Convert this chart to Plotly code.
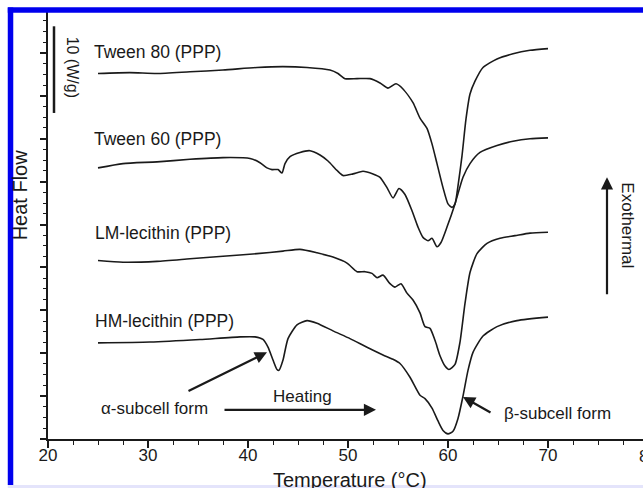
import plotly.graph_objects as go

# ---------------- data (Temperature °C, heat flow W/g with offsets) ----------------
tween80_T = [25.0, 28.2, 30.9, 34.2, 37.5, 40.9, 43.5, 45.9, 48.2, 49.0, 49.7, 50.9, 52.2, 53.2, 54.0,
             54.8, 55.5, 56.5, 57.2, 57.9, 58.4, 58.9, 59.5, 60.0, 60.4, 60.7, 61.0, 61.4, 61.8, 62.2,
             62.7, 63.5, 64.9, 66.5, 68.2, 70.0]
tween80_Y = [42.6, 42.7, 42.6, 42.8, 43.0, 43.3, 43.4, 43.3, 43.0, 42.6, 42.0, 42.0, 42.0, 41.5, 40.9,
             41.4, 40.8, 39.2, 37.4, 36.2, 34.4, 32.1, 29.3, 27.4, 27.0, 27.4, 29.5, 33.0, 37.3, 40.2,
             41.7, 43.3, 44.3, 44.9, 45.3, 45.5]

tween60_T = [25.0, 27.5, 30.9, 34.2, 37.5, 40.2, 41.2, 41.9, 42.4, 43.0, 43.4, 43.7, 44.2, 45.2, 46.2,
             47.2, 48.0, 48.9, 49.5, 50.5, 51.5, 52.5, 53.2, 53.9, 54.5, 55.1, 55.7, 56.4, 57.0, 57.5,
             58.0, 58.4, 58.9, 59.3, 59.9, 60.7, 61.5, 62.2, 63.2, 64.9, 66.5, 68.2, 70.0]
tween60_Y = [31.6, 32.1, 32.3, 32.6, 32.8, 32.7, 32.2, 31.6, 31.4, 31.4, 31.0, 32.1, 32.9, 33.4, 33.6,
             33.1, 32.4, 31.3, 30.7, 30.9, 31.2, 30.9, 30.5, 29.3, 28.1, 29.2, 28.5, 26.6, 24.7, 23.5,
             23.1, 23.4, 22.4, 22.9, 24.7, 27.4, 30.5, 32.1, 33.4, 34.2, 34.7, 35.0, 35.1]

lm_T = [25.0, 27.5, 30.9, 34.2, 37.5, 40.9, 43.5, 45.2, 46.9, 48.5, 49.9, 50.9, 51.7, 52.4, 52.9,
        53.5, 54.2, 54.7, 55.3, 55.9, 56.5, 57.2, 57.7, 58.2, 58.7, 59.2, 59.7, 60.1, 60.7, 61.2,
        61.7, 62.2, 62.9, 63.9, 65.2, 66.7, 68.2, 70.0]
lm_Y = [20.8, 20.6, 20.7, 21.0, 21.3, 21.6, 21.9, 22.1, 21.7, 21.2, 20.5, 19.5, 19.5, 19.3, 18.8,
        19.1, 18.1, 17.7, 18.1, 17.0, 16.2, 14.7, 13.1, 12.9, 11.5, 9.7, 8.5, 8.1, 8.7, 11.3,
        15.8, 19.4, 21.6, 22.8, 23.4, 23.7, 24.0, 24.1]

hm_T = [25.0, 30.2, 35.2, 39.2, 40.7, 41.5, 42.0, 42.5, 42.9, 43.1, 43.5, 44.0, 44.9, 45.9, 46.9,
        48.5, 50.2, 51.9, 53.5, 54.5, 55.2, 56.2, 57.2, 57.7, 58.4, 59.0, 59.5, 60.0, 60.5, 61.0,
        61.5, 62.0, 62.5, 63.5, 64.9, 66.9, 70.0]
hm_Y = [11.2, 11.3, 11.6, 11.9, 11.9, 11.6, 10.7, 9.2, 8.1, 8.0, 9.2, 11.7, 13.3, 13.8, 13.5,
        12.6, 11.7, 10.7, 9.8, 9.3, 8.8, 7.2, 5.1, 4.7, 3.6, 2.1, 1.0, 0.6, 0.9, 2.4,
        5.0, 8.0, 10.1, 12.0, 13.1, 13.8, 14.2]

series_names = ["Tween 80 (PPP)", "Tween 60 (PPP)", "LM-lecithin (PPP)", "HM-lecithin (PPP)"]
series_T = [tween80_T, tween60_T, lm_T, hm_T]
series_Y = [tween80_Y, tween60_Y, lm_Y, hm_Y]
label_pos = [(24.4, 45.1), (24.4, 35.0), (24.5, 24.0), (24.5, 13.75)]

x_ticks = [20, 30, 40, 50, 60, 70, 80]
x_min, x_max = 20, 79.5

FONT = "Liberation Sans, Arial, Helvetica, sans-serif"
INK = "#1a1a1a"

fig = go.Figure()
for T, Y, name in zip(series_T, series_Y, series_names):
    fig.add_trace(go.Scatter(x=T, y=Y, mode="lines", name=name,
                             line=dict(color=INK, width=1.6, shape="spline", smoothing=0.6),
                             showlegend=False, hoverinfo="skip"))

ann = []
for (lx, ly), name in zip(label_pos, series_names):
    ann.append(dict(x=lx, y=ly, xref="x", yref="y", text=name, showarrow=False,
                    xanchor="left", yanchor="middle", font=dict(size=17.5, color=INK, family=FONT)))

# other text
ann += [
    dict(x=25.1, y=3.6, xref="x", yref="y", text="α-subcell form", showarrow=False,
         xanchor="left", yanchor="middle", font=dict(size=17, color=INK, family=FONT)),
    dict(x=42.3, y=4.9, xref="x", yref="y", text="Heating", showarrow=False,
         xanchor="left", yanchor="middle", font=dict(size=17, color=INK, family=FONT)),
    dict(x=65.4, y=3.0, xref="x", yref="y", text="β-subcell form", showarrow=False,
         xanchor="left", yanchor="middle", font=dict(size=17, color=INK, family=FONT)),
    dict(x=78.0, y=24.9, xref="x", yref="y", text="Exothermal", showarrow=False, textangle=90,
         xanchor="center", yanchor="middle", font=dict(size=17, color=INK, family=FONT)),
    dict(x=22.4, y=43.4, xref="x", yref="y", text="10 (W/g)", showarrow=False, textangle=90,
         xanchor="center", yanchor="middle", font=dict(size=16, color=INK, family=FONT)),
    # axis titles
    dict(x=-0.048, y=0.569, xref="paper", yref="paper", text="Heat Flow", showarrow=False, textangle=-90,
         xanchor="center", yanchor="middle", font=dict(size=20, color=INK, family=FONT)),
    dict(x=0.508, y=-0.066, xref="paper", yref="paper", text="Temperature (°C)", showarrow=False,
         xanchor="center", yanchor="top", font=dict(size=20, color=INK, family=FONT)),
    # clipped tick label at 80 (just beyond the visible right edge)
    dict(x=(80 - x_min) / (x_max - x_min), y=0, xref="paper", yref="paper", text="80", showarrow=False,
         xanchor="center", yanchor="top", yshift=-6, font=dict(size=17, color=INK, family=FONT)),
]

# arrows (head x,y ; tail ax,ay)
arrows = [
    (41.9, 10.1, 33.9, 5.5),
    (52.8, 3.4, 37.5, 3.4),
    (61.5, 4.9, 64.4, 3.0),
    (75.9, 30.5, 75.9, 16.7),
]
for hx, hy, tx, ty in arrows:
    ann.append(dict(x=hx, y=hy, ax=tx, ay=ty, xref="x", yref="y", axref="x", ayref="y",
                    text="", showarrow=True, arrowhead=2, arrowsize=1.1, arrowwidth=2.2,
                    arrowcolor=INK))

shapes = [
    # scale bar 10 W/g
    dict(type="line", xref="x", yref="y", x0=20.6, x1=20.6, y0=38.0, y1=48.1,
         line=dict(color=INK, width=2.5)),
    # blue frame
    dict(type="line", xref="paper", yref="paper", x0=-0.0630, x1=-0.0630, y0=-0.107, y1=1.006,
         line=dict(color="#0000ee", width=5.5)),
    dict(type="line", xref="paper", yref="paper", x0=-0.0676, x1=1.1, y0=1.0, y1=1.0,
         line=dict(color="#0000ee", width=5.5)),
    dict(type="rect", xref="paper", yref="paper", x0=-0.0676, x1=1.1, y0=-0.1072, y1=-0.12,
         line=dict(width=0), fillcolor="#e4e4fb"),
]

fig.update_layout(
    width=643, height=488,
    margin=dict(l=48, r=0, t=10, b=49),
    paper_bgcolor="white", plot_bgcolor="white",
    font=dict(family=FONT, color=INK),
    annotations=ann, shapes=shapes,
    xaxis=dict(range=[x_min, x_max], tickvals=x_ticks, ticks="outside", ticklen=7, tickwidth=1.5,
               tickcolor=INK, showline=True, linecolor=INK, linewidth=1.5, showgrid=False,
               zeroline=False, tickfont=dict(size=17, color=INK, family=FONT), ticklabelstandoff=-7,
               minor=dict(dtick=2.5, tick0=0, ticks="outside", ticklen=4, tickwidth=1.2, tickcolor=INK)),
    yaxis=dict(range=[0, 50], dtick=5, tick0=0, ticks="outside", ticklen=6, tickwidth=1.5,
               tickcolor=INK, showline=True, linecolor=INK, linewidth=1.5, showgrid=False,
               zeroline=False, showticklabels=False,
               minor=dict(dtick=1.25, tick0=0, ticks="outside", ticklen=3.5, tickwidth=1.2, tickcolor=INK)),
)

fig.write_html("out.html", config={"displayModeBar": False},
               post_script="document.body.style.margin='0';document.body.style.overflow='hidden';")
